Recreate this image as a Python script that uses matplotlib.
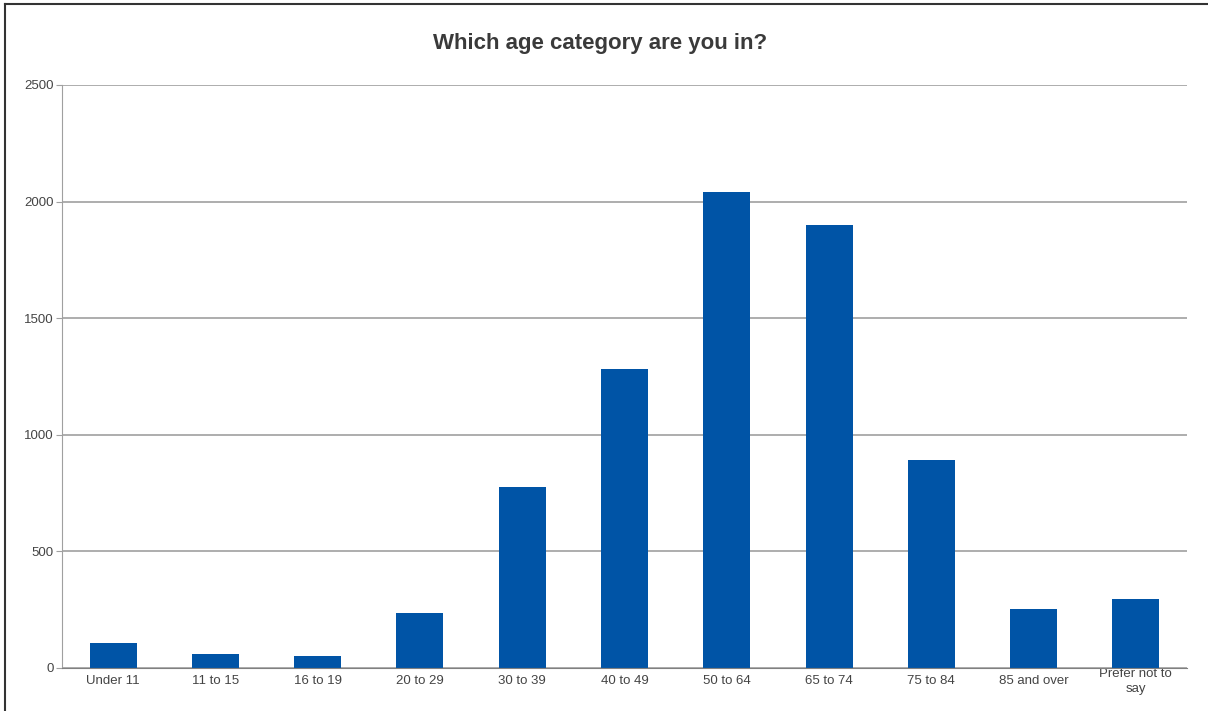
import matplotlib.pyplot as plt
from matplotlib.lines import Line2D

plt.rcParams['font.family'] = ['Liberation Sans', 'DejaVu Sans']

categories = ['Under 11', '11 to 15', '16 to 19', '20 to 29', '30 to 39', '40 to 49',
              '50 to 64', '65 to 74', '75 to 84', '85 and over', 'Prefer not to\nsay']
counts = [107, 60, 51, 236, 776, 1282, 2041, 1900, 892, 253, 296]

fig = plt.figure(figsize=(12.08, 7.11), dpi=100)
ax = fig.add_axes([0.0513, 0.0605, 0.9313, 0.82])

x = range(len(categories))
ax.bar(x, counts, width=0.46, color='#0054a6', zorder=3)

ax.set_xlim(-0.5, len(categories) - 0.5)
ax.set_ylim(0, 2500)
ax.set_yticks([0, 500, 1000, 1500, 2000, 2500])
ax.set_xticks(list(x))
ax.set_xticklabels(categories, linespacing=1.35, va='center')

ax.grid(axis='y', color='#a0a0a0', linewidth=1.2, zorder=0)
for s in ['top', 'right']:
    ax.spines[s].set_visible(False)
ax.spines['left'].set_color('#a0a0a0')
ax.spines['bottom'].set_color('#808080')
ax.spines['bottom'].set_zorder(4)
ax.tick_params(axis='y', length=4, color='#a0a0a0', labelsize=9.5, labelcolor='#444444', pad=2)
ax.tick_params(axis='x', length=0, labelsize=9.5, labelcolor='#444444', pad=9.5)

fig.text(0.497, 0.939, 'Which age category are you in?', fontsize=16, fontweight='bold',
         color='#3a3a3a', ha='center', va='center')

# frame around the chart (top and left edges)
fig.add_artist(Line2D([0.004, 0.004], [0, 0.995], transform=fig.transFigure, color='#333333', lw=1.5))
fig.add_artist(Line2D([0.004, 1], [0.995, 0.995], transform=fig.transFigure, color='#333333', lw=1.5))

fig.savefig('out.png', dpi=100)
